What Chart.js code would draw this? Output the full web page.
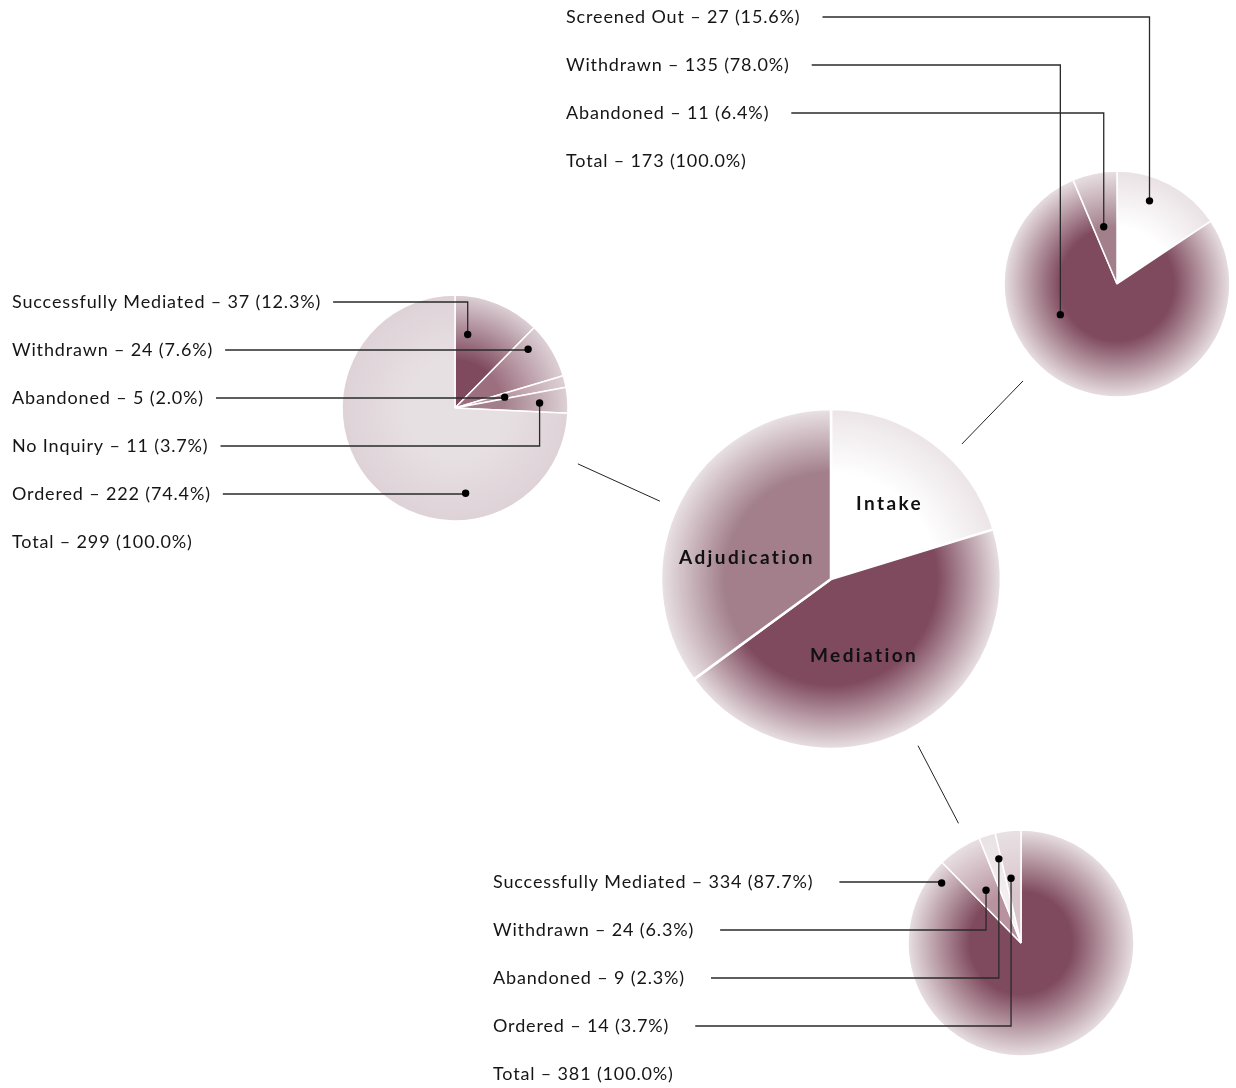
<!DOCTYPE html>
<html>
<head>
<meta charset="utf-8">
<title>Case flow</title>
<script src="https://cdn.jsdelivr.net/npm/chart.js@4.4.1/dist/chart.umd.min.js"></script>
<style>
  html, body { margin: 0; padding: 0; background: #fff; }
  #page { position: relative; width: 1236px; height: 1088px; overflow: hidden; }
  #page canvas { position: absolute; left: 0; top: 0; }
</style>
</head>
<body>
<div id="page">
  <canvas id="adjudicationPie" width="1236" height="1088"></canvas>
  <canvas id="intakePie" width="1236" height="1088"></canvas>
  <canvas id="mediationPie" width="1236" height="1088"></canvas>
  <canvas id="mainPie" width="1236" height="1088"></canvas>
</div>
<script>
// stages (centre pie)
const stageLabels = ['Intake', 'Mediation', 'Adjudication'];
const stageTotals = [173, 381, 299];

// intake outcomes
const intakeLabels = ['Screened Out', 'Withdrawn', 'Abandoned'];
const intakeCounts = [27, 135, 11];
const intakePercents = [15.6, 78.0, 6.4];

// mediation outcomes
const mediationLabels = ['Successfully Mediated', 'Withdrawn', 'Abandoned', 'Ordered'];
const mediationCounts = [334, 24, 9, 14];
const mediationPercents = [87.7, 6.3, 2.3, 3.7];

// adjudication outcomes
const adjudicationLabels = ['Successfully Mediated', 'Withdrawn', 'Abandoned', 'No Inquiry', 'Ordered'];
const adjudicationCounts = [37, 24, 5, 11, 222];
const adjudicationPercents = [12.3, 7.6, 2.0, 3.7, 74.4];

const W = 1236, H = 1088;
const DARK = '#7f4a5d';
const MAUVE = '#a27f8a';
const FONT = 'Lato, "Open Sans", sans-serif';

// where each pie sits on the page
function padFor(p, bw) {
  return {
    left: p.cx - p.r - bw / 2,
    top: p.cy - p.r - bw / 2,
    right: W - p.cx - p.r - bw / 2,
    bottom: H - p.cy - p.r - bw / 2,
  };
}

// radial fade from slice colour to a pale rim
function fade(colors, start, edge) {
  return (c) => {
    const base = colors[c.dataIndex % colors.length];
    const a = c.chart.chartArea;
    if (!a) return base;
    const cx = (a.left + a.right) / 2, cy = (a.top + a.bottom) / 2;
    const R = Math.min(a.right - a.left, a.bottom - a.top) / 2;
    const g = c.chart.ctx.createRadialGradient(cx, cy, 0, cx, cy, R);
    g.addColorStop(0, base);
    g.addColorStop(start, base);
    g.addColorStop(1, edge);
    return g;
  };
}

function pointAt(arc, t, rf) {
  const a = arc.startAngle + t * (arc.endAngle - arc.startAngle);
  return { x: arc.x + Math.cos(a) * arc.outerRadius * rf, y: arc.y + Math.sin(a) * arc.outerRadius * rf };
}

// list of outcomes with leader lines into the slices
const calloutPlugin = {
  id: 'callouts',
  afterDraw(chart, args, opts) {
    if (!opts.names) return;
    const ctx = chart.ctx;
    const arcs = chart.getDatasetMeta(0).data;
    const counts = chart.data.datasets[0].data;
    ctx.save();
    ctx.font = '18px ' + FONT;
    ctx.letterSpacing = '0.85px';
    ctx.textBaseline = 'middle';
    ctx.fillStyle = '#151515';
    opts.names.forEach((name, i) => {
      const y = opts.y0 + i * opts.step;
      const txt = name + ' \u2013 ' + counts[i] + ' (' + opts.percents[i].toFixed(1) + '%)';
      ctx.fillText(txt, opts.x, y);
      const end = opts.x + ctx.measureText(txt).width + opts.gap;
      const d = opts.dots[i];
      const p = pointAt(arcs[i], d[0], d[1]);
      ctx.strokeStyle = '#2a2a2a';
      ctx.lineWidth = 1.3;
      ctx.beginPath();
      ctx.moveTo(end, y);
      ctx.lineTo(p.x, y);
      ctx.lineTo(p.x, p.y);
      ctx.stroke();
      ctx.fillStyle = '#000';
      ctx.beginPath();
      ctx.arc(p.x, p.y, 3.7, 0, Math.PI * 2);
      ctx.fill();
      ctx.fillStyle = '#151515';
    });
    const total = counts.reduce((s, v) => s + v, 0);
    ctx.fillText('Total \u2013 ' + total + ' (100.0%)', opts.x, opts.y0 + opts.names.length * opts.step);
    ctx.restore();
  },
};

// stage names inside the centre pie + lines out to the detail pies
const satellites = [];
const stagePlugin = {
  id: 'stages',
  afterDraw(chart, args, opts) {
    if (!opts.anchors) return;
    const ctx = chart.ctx;
    const arcs = chart.getDatasetMeta(0).data;
    ctx.save();
    ctx.font = 'bold 19px ' + FONT;
    ctx.letterSpacing = '2.4px';
    ctx.textAlign = 'center';
    ctx.textBaseline = 'middle';
    ctx.fillStyle = '#111';
    chart.data.labels.forEach((name, i) => {
      const p = pointAt(arcs[i], opts.anchors[i][0], opts.anchors[i][1]);
      ctx.fillText(name, p.x, p.y);
    });
    const c = arcs[0];
    ctx.strokeStyle = '#222';
    ctx.lineWidth = 1;
    satellites.forEach((s) => {
      const o = s.getDatasetMeta(0).data[0];
      const dx = o.x - c.x, dy = o.y - c.y;
      const len = Math.hypot(dx, dy);
      const a = (c.outerRadius + 18) / len, b = (len - o.outerRadius - 22) / len;
      ctx.beginPath();
      ctx.moveTo(c.x + dx * a, c.y + dy * a);
      ctx.lineTo(c.x + dx * b, c.y + dy * b);
      ctx.stroke();
    });
    ctx.restore();
  },
};

function makePie(id, labels, values, look, place, extra) {
  return new Chart(document.getElementById(id), {
    type: 'pie',
    data: {
      labels: labels,
      datasets: [{
        data: values,
        backgroundColor: fade(look.colors, look.fadeStart, look.edge),
        borderColor: '#ffffff',
        borderWidth: look.bw,
      }],
    },
    options: {
      responsive: false,
      animation: false,
      events: [],
      layout: { padding: padFor(place, look.bw) },
      plugins: Object.assign({
        legend: { display: false },
        tooltip: { enabled: false },
      }, extra),
    },
    plugins: [calloutPlugin, stagePlugin],
  });
}

satellites.push(makePie('intakePie', intakeLabels, intakeCounts,
  { colors: ['#ffffff', DARK, MAUVE], fadeStart: 0.5, edge: '#e9e1e4', bw: 1.5 },
  { cx: 1117, cy: 284, r: 113 },
  { callouts: { names: intakeLabels, percents: intakePercents, x: 566, y0: 17, step: 48, gap: 22,
    dots: [[0.38, 0.79], [0.66, 0.57], [0.43, 0.52]] } }));

satellites.push(makePie('adjudicationPie', adjudicationLabels, adjudicationCounts,
  { colors: [DARK, '#9c6f7f', '#b48f9b', MAUVE, '#e7e0e3'], fadeStart: 0.42, edge: '#ded2d7', bw: 1.5 },
  { cx: 455, cy: 408, r: 113 },
  { callouts: { names: adjudicationLabels, percents: adjudicationPercents, x: 12, y0: 302, step: 48, gap: 12,
    dots: [[0.22, 0.66], [0.23, 0.83], [0.7, 0.45], [0.54, 0.75], [0.3, 0.76]] } }));

satellites.push(makePie('mediationPie', mediationLabels, mediationCounts,
  { colors: [DARK, '#b8939f', '#f4eef0', '#d9c6cd'], fadeStart: 0.45, edge: '#e9e1e4', bw: 1.5 },
  { cx: 1021, cy: 943, r: 113 },
  { callouts: { names: mediationLabels, percents: mediationPercents, x: 493, y0: 882, step: 48, gap: 26,
    dots: [[0.973, 0.88], [0.48, 0.56], [0.82, 0.77], [0.34, 0.58]] } }));

makePie('mainPie', stageLabels, stageTotals,
  { colors: ['#ffffff', DARK, MAUVE], fadeStart: 0.62, edge: '#ebe4e7', bw: 2.5 },
  { cx: 831, cy: 579, r: 170 },
  { stages: { anchors: [[0.52, 0.56], [0.52, 0.49], [0.4, 0.51]] } });
</script>
</body>
</html>
